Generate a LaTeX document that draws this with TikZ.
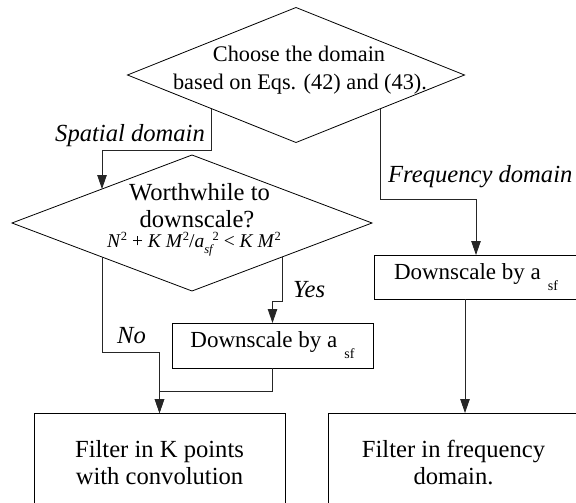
\documentclass[tikz,border=0pt]{standalone}
\usepackage{fontspec}
\setmainfont{Liberation Serif}
\usetikzlibrary{shapes.geometric,arrows.meta,calc}
\newcommand{\asf}{a\hspace{7pt}\raisebox{-11pt}{\fontsize{14}{14}\selectfont sf}}
\newcommand{\supx}[1]{\raisebox{7pt}{\fontsize{12.5}{12.5}\selectfont #1}}
\newcommand{\subx}[1]{\raisebox{-6pt}{\fontsize{12.5}{12.5}\selectfont\itshape #1}}
\begin{document}
\begin{tikzpicture}[x=1pt,y=-1pt,
  line/.style={draw=black!85, line width=0.8pt},
  arr/.style={line, -{Triangle[length=14pt,width=9.5pt]}},
  dia/.style={diamond, draw=black, line width=0.8pt, inner sep=0pt, outer sep=0pt},
  boxn/.style={draw=black, line width=0.8pt, inner sep=0pt, outer sep=0pt, align=center},
  txt/.style={inner sep=0pt, outer sep=0pt, anchor=base},
  lbl/.style={inner sep=0pt, anchor=base west, font=\fontsize{24.6}{27}\selectfont\itshape},
]
\clip (0,0) rectangle (576,503);
% top decision
\node[dia, minimum width=337pt, minimum height=135pt] (d1) at (296,75) {};
\node[txt, font=\fontsize{22.3}{28.3}\selectfont] (t1a) at (299,62) {Choose the domain};
\node[txt, font=\fontsize{22.3}{28.3}\selectfont] (t1b) at (300,90) {based on Eqs. (42) and (43).};
% second decision
\node[dia, minimum width=360pt, minimum height=136pt] (d2) at (192,223) {};
\node[txt, font=\fontsize{24.6}{27}\selectfont] (t2a) at (199.5,200) {Worthwhile to};
\node[txt, font=\fontsize{24.6}{27}\selectfont] (t2b) at (197,227) {downscale?};
\node[txt, font=\fontsize{19.5}{22}\selectfont] (t2c) at (194,247)
  {\textit{N}\supx{2} + \textit{K M}\supx{2}/\textit{a}\subx{sf}\supx{2} < \textit{K M}\supx{2}};
% boxes
\node[boxn, minimum width=204pt, minimum height=44pt, font=\fontsize{23}{27}\selectfont] (b1) at (476,277) {Downscale by \asf};
\node[boxn, minimum width=201pt, minimum height=45pt, font=\fontsize{23}{27}\selectfont] (b2) at (272.5,345.5) {Downscale by \asf};
\node[boxn, minimum width=251pt, minimum height=100pt, font=\fontsize{24.6}{27}\selectfont] (b3) at (159.5,463) {Filter in K points\\with convolution};
\node[boxn, minimum width=251pt, minimum height=100pt, font=\fontsize{24.6}{27}\selectfont] (b4) at (453.5,463) {Filter in frequency\\domain.};
% connectors
\coordinate (m1) at ($(d1.west)!0.5!(d1.south)$);
\coordinate (m2) at ($(d2.west)!0.5!(d2.north)$);
\coordinate (m3) at ($(d1.south)!0.5!(d1.east)$);
\coordinate (m4) at ($(d2.west)!0.5!(d2.south)$);
\coordinate (m5) at ($(d2.south)!0.5!(d2.east)$);
\coordinate (c5) at (465,0);
\draw[arr] (m1) -- ++(0,41.5) -| (m2);
\draw[arr] (m3) -- ++(0,90.5) -| (b1.north);
\draw[arr] (m4) -- ++(0,95) -| (b3.north);
\draw[arr] (m5) -- ++(0,44) -| (b2.north);
\draw[arr] (b2.south) -- ++(0,23) -| (b3.north);
\draw[arr] (b1.south -| c5) -- (b4.north -| c5);
% labels
\node[lbl] (l1) at (55,141) {Spatial domain};
\node[lbl] (l2) at (388,182) {Frequency domain};
\node[lbl] (l3) at (293,297) {Yes};
\node[lbl] (l4) at (117,343) {No};
\end{tikzpicture}
\end{document}
